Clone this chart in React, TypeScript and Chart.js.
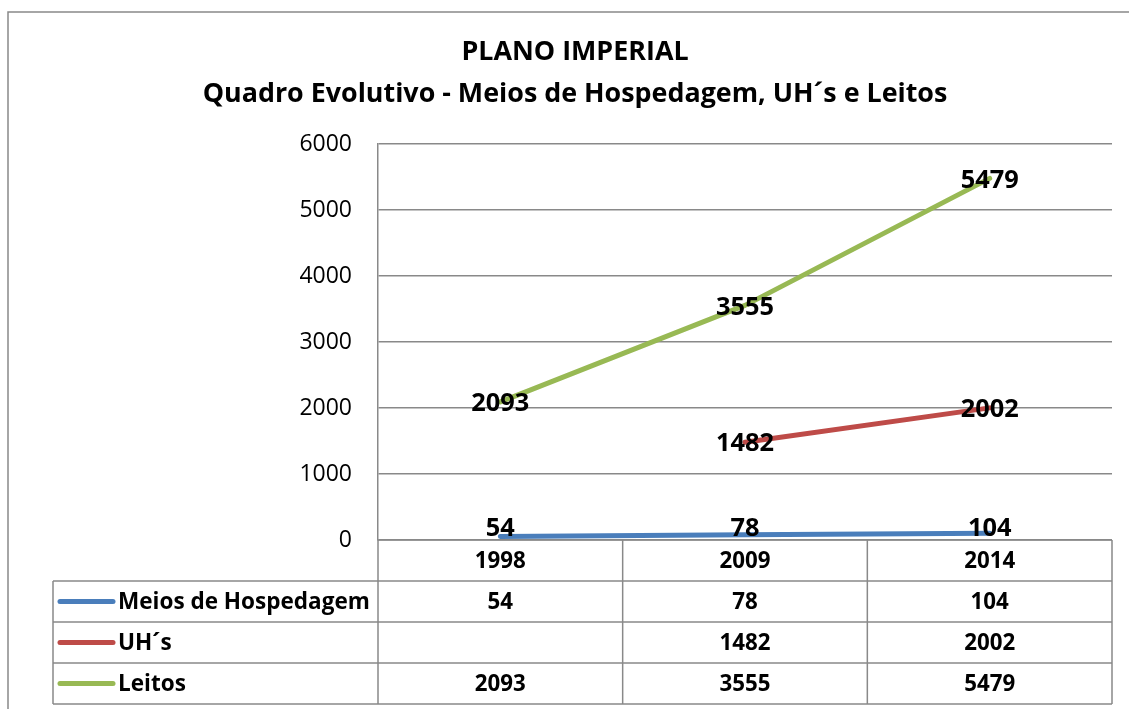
import React, { useEffect, useRef } from "react";
import { Chart, registerables } from "chart.js";

Chart.register(...registerables);

const years = ["1998", "2009", "2014"];
const meios = [54, 78, 104];
const uhs: (number | null)[] = [null, 1482, 2002];
const leitos = [2093, 3555, 5479];
const seriesNames = ["Meios de Hospedagem", "UH´s", "Leitos"];
const seriesColors = ["#4A7EBB", "#BE4B48", "#98B954"];
const titleLines = ["PLANO IMPERIAL", "Quadro Evolutivo - Meios de Hospedagem, UH´s e Leitos"];

const FONT = "'Open Sans', 'Noto Sans', sans-serif";
const GRID = "#898989";

function fitFont(ctx: CanvasRenderingContext2D, text: string, weight: string, target: number) {
  ctx.font = `${weight} 20px ${FONT}`;
  const w = ctx.measureText(text).width;
  const size = (20 * target) / w;
  ctx.font = `${weight} ${size.toFixed(2)}px ${FONT}`;
}

export default function App() {
  const ref = useRef<HTMLCanvasElement | null>(null);
  useEffect(() => {
    document.body.style.margin = "0";
    const canvas = ref.current!;
    const seriesData = [meios, uhs, leitos];

    const overlay = {
      id: "overlay",
      afterDatasetsDraw(chart: any) {
        const ctx = chart.ctx as CanvasRenderingContext2D;
        const area = chart.chartArea;
        ctx.save();
        ctx.fillStyle = "#000";
        fitFont(ctx, "5479", "bold", 58);
        ctx.textAlign = "center";
        ctx.textBaseline = "middle";
        chart.data.datasets.forEach((ds: any, i: number) => {
          const meta = chart.getDatasetMeta(i);
          meta.data.forEach((pt: any, j: number) => {
            const v = ds.data[j];
            if (v === null || v === undefined) return;
            let y = pt.y;
            y = Math.min(y, area.bottom - 13);
            y = Math.max(y, area.top + 14);
            ctx.fillText(String(v), pt.x, y + 2);
          });
        });
        ctx.restore();
      },
      afterDraw(chart: any) {
        const ctx = chart.ctx as CanvasRenderingContext2D;
        const area = chart.chartArea;
        const W = chart.width;
        ctx.save();
        ctx.strokeStyle = GRID;
        ctx.lineWidth = 1.5;
        ctx.beginPath();
        ctx.moveTo(8, 709);
        ctx.lineTo(8, 12);
        ctx.lineTo(W, 12);
        ctx.stroke();

        ctx.fillStyle = "#000";
        ctx.textAlign = "center";
        ctx.textBaseline = "middle";
        fitFont(ctx, titleLines[1], "bold", 745);
        ctx.fillText(titleLines[0], 575, 52);
        ctx.fillText(titleLines[1], 575, 94);

        const xs = chart.scales.x;
        const left = area.left;
        const right = area.right;
        const colW = (right - left) / years.length;
        const rowTops = [area.bottom, 581, 622, 663, 704];
        const tableLeft = 53;
        ctx.strokeStyle = GRID;
        ctx.lineWidth = 1.5;
        ctx.beginPath();
        ctx.moveTo(left, rowTops[0]);
        ctx.lineTo(right, rowTops[0]);
        for (let r = 1; r < rowTops.length; r++) {
          ctx.moveTo(tableLeft, rowTops[r]);
          ctx.lineTo(right, rowTops[r]);
        }
        for (let c = 0; c <= years.length; c++) {
          const x = left + c * colW;
          ctx.moveTo(x, rowTops[0]);
          ctx.lineTo(x, rowTops[4]);
        }
        ctx.moveTo(tableLeft, rowTops[1]);
        ctx.lineTo(tableLeft, rowTops[4]);
        ctx.stroke();

        fitFont(ctx, "2014", "bold", 51);
        ctx.textAlign = "center";
        ctx.fillStyle = "#000";
        years.forEach((y, j) => {
          const cx = xs.getPixelForValue(j);
          ctx.fillText(y, cx, (rowTops[0] + rowTops[1]) / 2 + 1);
        });
        const numFont = ctx.font;
        seriesData.forEach((arr, i) => {
          const cy = (rowTops[i + 1] + rowTops[i + 2]) / 2;
          ctx.strokeStyle = seriesColors[i];
          ctx.lineWidth = 5;
          ctx.lineCap = "round";
          ctx.beginPath();
          ctx.moveTo(60, cy);
          ctx.lineTo(113, cy);
          ctx.stroke();
          fitFont(ctx, "Meios de Hospedagem", "bold", 252);
          ctx.textAlign = "left";
          ctx.fillText(seriesNames[i], 118, cy + 1);
          ctx.font = numFont;
          ctx.textAlign = "center";
          arr.forEach((v, j) => {
            if (v === null) return;
            ctx.fillText(String(v), xs.getPixelForValue(j), cy + 1);
          });
        });
        ctx.restore();
      },
    };

    const chart = new Chart(canvas, {
      type: "line",
      data: {
        labels: years,
        datasets: seriesNames.map((name, i) => ({
          label: name,
          data: seriesData[i] as any,
          borderColor: seriesColors[i],
          backgroundColor: seriesColors[i],
          borderWidth: 5,
          pointRadius: 0,
          borderCapStyle: "round",
          borderJoinStyle: "round",
          tension: 0,
          spanGaps: false,
        })),
      },
      options: {
        animation: false,
        responsive: false,
        layout: { padding: { left: 0, top: 144, right: 17, bottom: 169 } },
        plugins: {
          legend: { display: false },
          title: { display: false },
          tooltip: { enabled: false },
        },
        scales: {
          x: {
            display: false,
            offset: true,
          },
          y: {
            min: 0,
            max: 6000,
            ticks: {
              stepSize: 1000,
              color: "#000",
              padding: 26,
              font: { family: FONT, size: 23 },
              callback: (v: any) => String(v),
            },
            grid: { color: GRID, lineWidth: 1.5, drawTicks: false },
            border: { color: GRID, width: 1.5 },
            afterFit(scale: any) {
              scale.width = 378;
            },
          },
        },
      },
      plugins: [overlay],
    });
    return () => chart.destroy();
  }, []);
  return (
    <div style={{ position: "absolute", left: 0, top: 0, width: 1129, height: 709, background: "#fff" }}>
      <canvas ref={ref} width={1129} height={709} style={{ width: 1129, height: 709, display: "block" }} />
    </div>
  );
}
